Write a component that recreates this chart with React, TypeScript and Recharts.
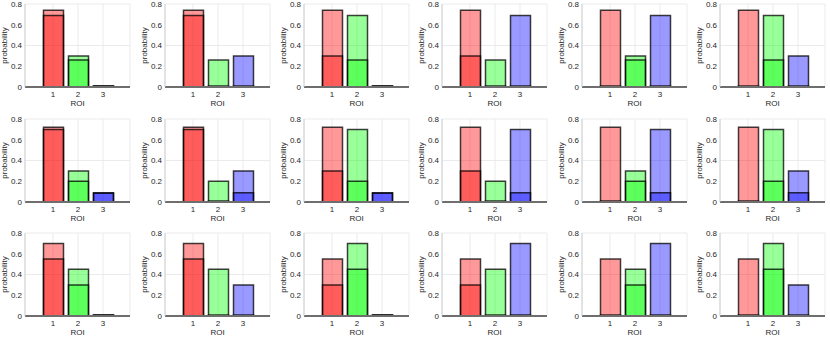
import React from "react";
import { Bar, BarChart, CartesianGrid, Cell, Label, XAxis, YAxis } from "recharts";

const roiIds = [1, 2, 3];
const roiColors = ["#ff0000", "#00ff00", "#0000ff"];
const yTicks = [0, 0.2, 0.4, 0.6, 0.8];

// light (outer) bars, one array per panel, row by row
const lightProbs = [
  [0.74, 0.3, 0.01], [0.74, 0.26, 0.3], [0.74, 0.69, 0.01], [0.74, 0.26, 0.69], [0.74, 0.3, 0.69], [0.74, 0.69, 0.3],
  [0.72, 0.3, 0.09], [0.72, 0.2, 0.3], [0.72, 0.7, 0.09], [0.72, 0.2, 0.7], [0.72, 0.3, 0.7], [0.72, 0.7, 0.3],
  [0.7, 0.45, 0.01], [0.7, 0.45, 0.3], [0.55, 0.7, 0.01], [0.55, 0.45, 0.7], [0.55, 0.45, 0.7], [0.55, 0.7, 0.3],
];

// dark (inner) bars
const darkProbs = [
  [0.69, 0.26, 0.01], [0.69, 0.01, 0.01], [0.3, 0.26, 0.01], [0.3, 0.01, 0.01], [0.01, 0.26, 0.01], [0.01, 0.26, 0.01],
  [0.7, 0.2, 0.085], [0.7, 0.01, 0.09], [0.3, 0.2, 0.085], [0.3, 0.01, 0.09], [0.01, 0.2, 0.09], [0.01, 0.2, 0.09],
  [0.55, 0.3, 0.01], [0.55, 0.01, 0.01], [0.3, 0.45, 0.01], [0.3, 0.01, 0.01], [0.01, 0.3, 0.01], [0.01, 0.45, 0.01],
];

const colLefts = [0, 140, 279, 417, 557, 695];
const rowTops = [0, 115, 229];
const xDomain = [-0.12, 4.08];
const tickStyle = { fontSize: 8, fill: "#262626" };

function Panel({ idx }: { idx: number }) {
  const data = roiIds.map((roi, i) => ({ roi, light: lightProbs[idx][i], dark: darkProbs[idx][i] }));
  const left = colLefts[idx % 6];
  const top = rowTops[Math.floor(idx / 6)];
  return (
    <div style={{ position: "absolute", left, top }}>
      <BarChart
        width={139}
        height={115}
        data={data}
        margin={{ top: 4, right: 9, left: 0, bottom: 0 }}
        style={{ fontFamily: "'Liberation Sans', Arial, sans-serif" }}
      >
        <CartesianGrid xAxisId="light" stroke="#e6e6e6" strokeWidth={0.8} />
        <XAxis
          xAxisId="light"
          dataKey="roi"
          type="number"
          domain={xDomain}
          ticks={roiIds}
          tickLine={false}
          tickSize={2}
          tickMargin={2}
          height={28}
          tick={tickStyle}
          axisLine={{ stroke: "#6e6e6e", strokeWidth: 2 }}
        >
          <Label
            content={({ viewBox }: any) => (
              <text x={viewBox.x + viewBox.width / 2} y={viewBox.y + 19} textAnchor="middle" fontSize={8} fill="#262626">
                ROI
              </text>
            )}
          />
        </XAxis>
        <XAxis xAxisId="dark" dataKey="roi" type="number" domain={xDomain} orientation="top" height={0} hide />
        <YAxis
          domain={[0, 0.8]}
          ticks={yTicks}
          width={25}
          tickLine={false}
          tickSize={2}
          tickMargin={1}
          tick={tickStyle}
          axisLine={{ stroke: "#d0d0d0" }}
        >
          <Label
            content={({ viewBox }: any) => {
              const cx = 7;
              const cy = viewBox.y + viewBox.height / 2;
              return (
                <text x={cx} y={cy} transform={`rotate(-90 ${cx} ${cy})`} textAnchor="middle" fontSize={8} fill="#262626">
                  probability
                </text>
              );
            }}
          />
        </YAxis>
        <Bar
          xAxisId="light"
          dataKey="light"
          barSize={20}
          isAnimationActive={false}
          fillOpacity={0.4}
          stroke="#000"
          strokeOpacity={0.75}
          strokeWidth={1.5}
        >
          {data.map((d, i) => (
            <Cell key={d.roi} fill={roiColors[i]} />
          ))}
        </Bar>
        <Bar
          xAxisId="dark"
          dataKey="dark"
          barSize={20}
          isAnimationActive={false}
          fillOpacity={0.4}
          stroke="#000"
          strokeOpacity={0.75}
          strokeWidth={1.5}
        >
          {data.map((d, i) => (
            <Cell key={d.roi} fill={roiColors[i]} />
          ))}
        </Bar>
      </BarChart>
    </div>
  );
}

export default function App() {
  return (
    <div style={{ position: "absolute", left: 0, top: 0, width: 830, height: 338, background: "#fff", overflow: "hidden" }}>
      {lightProbs.map((_, i) => (
        <Panel key={i} idx={i} />
      ))}
    </div>
  );
}
